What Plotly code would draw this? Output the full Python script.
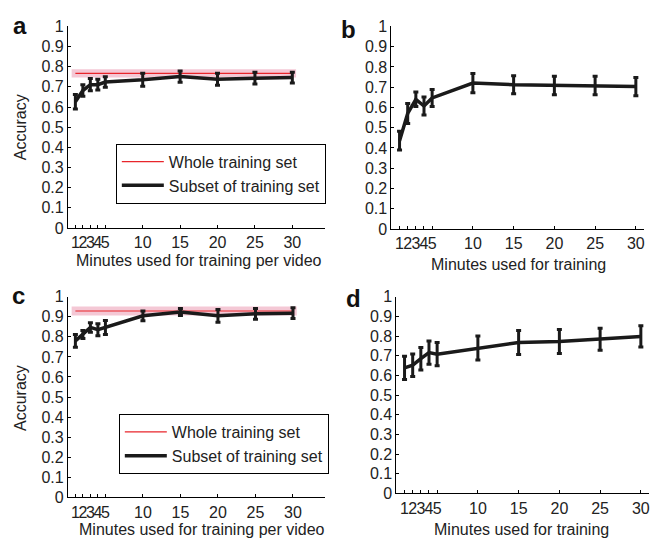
import plotly.graph_objects as go

# ---------------- data ----------------
minutes = [1, 2, 3, 4, 5, 10, 15, 20, 25, 30]
tick_labels = ["1", "2", "3", "4", "5", "10", "15", "20", "25", "30"]
y_ticks = [0, 0.1, 0.2, 0.3, 0.4, 0.5, 0.6, 0.7, 0.8, 0.9, 1]
y_tick_labels = ["0", "0.1", "0.2", "0.3", "0.4", "0.5", "0.6", "0.7", "0.8", "0.9", "1"]

a_mean = [0.626, 0.682, 0.711, 0.711, 0.724, 0.735, 0.751, 0.738, 0.743, 0.746]
a_err = [0.036, 0.028, 0.030, 0.027, 0.026, 0.032, 0.028, 0.030, 0.029, 0.027]
b_mean = [0.436, 0.570, 0.640, 0.607, 0.647, 0.720, 0.712, 0.708, 0.708, 0.703]
b_err = [0.046, 0.049, 0.036, 0.045, 0.042, 0.047, 0.044, 0.046, 0.046, 0.045]
c_mean = [0.780, 0.812, 0.847, 0.836, 0.847, 0.905, 0.924, 0.905, 0.915, 0.918]
c_err = [0.032, 0.020, 0.024, 0.030, 0.035, 0.024, 0.017, 0.032, 0.027, 0.027]
d_mean = [0.638, 0.652, 0.685, 0.716, 0.708, 0.739, 0.767, 0.772, 0.784, 0.798]
d_err = [0.059, 0.057, 0.057, 0.059, 0.059, 0.061, 0.061, 0.061, 0.056, 0.054]

whole_a = 0.767
whole_a_err = 0.020
whole_c = 0.929
whole_c_err = 0.023
band_x = [0.5, 30.5]

W, H = 652, 548
BLACK = "#1a1a1a"
RED = "#e8252b"
PINK = "rgba(238,170,190,0.65)"
FONT = "Liberation Sans, Arial, sans-serif"
TXT = "#222"

fig = go.Figure()


def add_band(xa, ya, mean, err):
    fig.add_trace(go.Scatter(
        x=[band_x[0], band_x[1], band_x[1], band_x[0]],
        y=[mean + err, mean + err, mean - err, mean - err],
        fill="toself", fillcolor=PINK, line=dict(width=0),
        mode="lines", hoverinfo="skip", showlegend=False,
        xaxis=xa, yaxis=ya))


def add_whole(xa, ya, mean, legend):
    fig.add_trace(go.Scatter(
        x=[minutes[0], minutes[-1]], y=[mean, mean], mode="lines",
        line=dict(color=RED, width=1.2), name="Whole training set",
        showlegend=True, legend=legend, xaxis=xa, yaxis=ya))


def add_subset(xa, ya, mean, err, legend=None):
    kw = dict(showlegend=False)
    if legend:
        kw = dict(showlegend=True, legend=legend)
    fig.add_trace(go.Scatter(
        x=minutes, y=mean, mode="lines",
        line=dict(color=BLACK, width=3.5),
        error_y=dict(type="data", array=err, visible=True,
                     color=BLACK, thickness=3, width=2.5),
        name="Subset of training set", xaxis=xa, yaxis=ya, **kw))


add_band("x", "y", whole_a, whole_a_err)
add_whole("x", "y", whole_a, "legend")
add_subset("x", "y", a_mean, a_err, "legend")

add_subset("x2", "y2", b_mean, b_err)

add_band("x3", "y3", whole_c, whole_c_err)
add_whole("x3", "y3", whole_c, "legend2")
add_subset("x3", "y3", c_mean, c_err, "legend2")

add_subset("x4", "y4", d_mean, d_err)


def px_x(p):
    return p / W


def px_y(p):
    return 1 - p / H


def xaxis(dom, rng, anchor):
    return dict(domain=[px_x(dom[0]), px_x(dom[1])], range=rng, anchor=anchor,
                tickmode="array", tickvals=minutes, ticktext=tick_labels,
                tickangle=0,
                ticks="inside", ticklen=3, tickcolor="black",
                showline=True, linecolor="black", linewidth=1,
                showgrid=False, zeroline=False,
                tickfont=dict(size=16, color=TXT, family=FONT))


def yaxis(dom, anchor):
    return dict(domain=[px_y(dom[1]), px_y(dom[0])], range=[0, 1], anchor=anchor,
                tickmode="array", tickvals=y_ticks, ticktext=y_tick_labels,
                ticks="inside", ticklen=3, tickcolor="black",
                showline=True, linecolor="black", linewidth=1,
                showgrid=False, zeroline=False,
                tickfont=dict(size=16, color=TXT, family=FONT))


legend_style = dict(bgcolor="white", bordercolor="black", borderwidth=1,
                    font=dict(size=16, color=TXT, family=FONT),
                    xanchor="left", yanchor="top", tracegroupgap=0,
                    itemwidth=42)

fig.update_layout(
    width=W, height=H, margin=dict(l=0, r=0, t=0, b=0),
    paper_bgcolor="white", plot_bgcolor="white",
    font=dict(family=FONT, color=TXT),
    xaxis=xaxis([68, 325], [0, 34.3], "y"),
    yaxis=yaxis([19, 227], "x"),
    xaxis2=xaxis([392, 645], [0, 31], "y2"),
    yaxis2=yaxis([19, 228], "x2"),
    xaxis3=xaxis([68, 325], [0, 34.2], "y3"),
    yaxis3=yaxis([298, 505], "x3"),
    xaxis4=xaxis([397, 650], [0, 31], "y4"),
    yaxis4=yaxis([298, 501], "x4"),
    legend=dict(x=px_x(116), y=px_y(140), **legend_style),
    legend2=dict(x=px_x(119), y=px_y(419), **legend_style),
)


def ann(text, x, y, size, bold=False, angle=0):
    fig.add_annotation(
        text=f"<b>{text}</b>" if bold else text,
        x=px_x(x), y=px_y(y), xref="paper", yref="paper",
        xanchor="center", yanchor="middle", showarrow=False, textangle=angle,
        font=dict(size=size, color="#111" if bold else TXT, family=FONT))


# panel letters
ann("a", 20, 17.7, 24, bold=True)
ann("b", 349, 21.7, 24, bold=True)
ann("c", 18.3, 296.7, 24, bold=True)
ann("d", 354, 299.7, 24, bold=True)

# axis titles
ann("Accuracy", 20, 123, 16, angle=-90)
ann("Accuracy", 20, 402.5, 16, angle=-90)
ann("Minutes used for training per video", 199.5, 261, 16)
ann("Minutes used for training", 519, 264.5, 16)
ann("Minutes used for training per video", 202, 537.8, 16)
ann("Minutes used for training", 522, 538, 16)

fig.write_html("out.html")
